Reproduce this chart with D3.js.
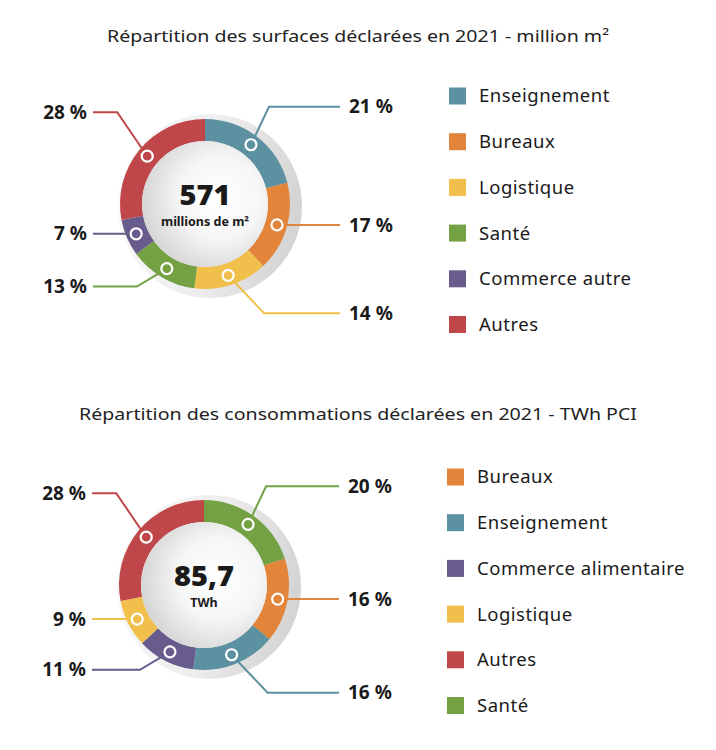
<!DOCTYPE html>
<html>
<head>
<meta charset="utf-8">
<script src="https://cdn.jsdelivr.net/npm/d3@7/dist/d3.min.js"></script>
<style>
  html, body { margin: 0; padding: 0; background: #fff; }
  svg { display: block; }
  text { font-family: "Noto Sans", "Lato", sans-serif; fill: #1a1a1a; }
</style>
</head>
<body>
<svg id="chart" width="716" height="750"></svg>
<script>
// ---------- DATA ----------
const surfTitle = "Répartition des surfaces déclarées en 2021 - million m²";
const surfCategories = ["Enseignement", "Bureaux", "Logistique", "Santé", "Commerce autre", "Autres"];
const surfValues = [21, 17, 14, 13, 7, 28];
const surfLegend = ["Enseignement", "Bureaux", "Logistique", "Santé", "Commerce autre", "Autres"];
const surfTotal = "571";
const surfUnit = "millions de m²";

const consoTitle = "Répartition des consommations déclarées en 2021 - TWh PCI";
const consoCategories = ["Santé", "Bureaux", "Enseignement", "Commerce alimentaire", "Logistique", "Autres"];
const consoValues = [20, 16, 16, 11, 9, 28];
const consoLegend = ["Bureaux", "Enseignement", "Commerce alimentaire", "Logistique", "Autres", "Santé"];
const consoTotal = "85,7";
const consoUnit = "TWh";

const colorDomain = ["Enseignement", "Bureaux", "Logistique", "Santé", "Commerce autre", "Commerce alimentaire", "Autres"];
const colorRange  = ["#5c91a1", "#e2853a", "#f0bf4c", "#75a145", "#675c8c", "#675c8c", "#c04749"];

// ---------- SETUP ----------
const color = d3.scaleOrdinal().domain(colorDomain).range(colorRange);
const svg = d3.select("#chart");
const defs = svg.append("defs");

const shadowGrad = defs.append("linearGradient").attr("id", "shadowGrad")
  .attr("x1", "0%").attr("y1", "30%").attr("x2", "100%").attr("y2", "50%");
shadowGrad.append("stop").attr("offset", "0%").attr("stop-color", "#f9f9f9");
shadowGrad.append("stop").attr("offset", "55%").attr("stop-color", "#ececec");
shadowGrad.append("stop").attr("offset", "100%").attr("stop-color", "#d3d3d3");

const discGrad = defs.append("radialGradient").attr("id", "discGrad")
  .attr("cx", "62%").attr("cy", "45%").attr("r", "65%");
discGrad.append("stop").attr("offset", "0%").attr("stop-color", "#ffffff");
discGrad.append("stop").attr("offset", "50%").attr("stop-color", "#f6f6f6");
discGrad.append("stop").attr("offset", "100%").attr("stop-color", "#d2d2d2");

const pie = d3.pie().sort(null).value(d => d.value);

function drawDonut(cfg) {
  const { title, titleY, titleWidth, cx, cy, categories, values, legend, total, unit, legendX, legendY } = cfg;
  const rOuter = 85, rInner = 63, rDot = 75;
  const data = categories.map((c, i) => ({ cat: c, value: values[i] }));

  svg.append("text").attr("x", 358).attr("y", titleY)
    .attr("text-anchor", "middle").attr("font-size", 17)
    .attr("font-family", "'DejaVu Sans', 'Noto Sans', sans-serif")
    .attr("textLength", titleWidth).attr("lengthAdjust", "spacingAndGlyphs")
    .style("fill", "#222").text(title);

  const g = svg.append("g").attr("transform", `translate(${cx},${cy})`);

  // shadow ring
  g.append("circle").attr("cx", 5).attr("cy", 2).attr("r", 92).attr("fill", "url(#shadowGrad)");

  const arc = d3.arc().innerRadius(rInner).outerRadius(rOuter);
  const arcs = pie(data);
  g.selectAll("path.slice").data(arcs).join("path")
    .attr("class", "slice")
    .attr("d", arc)
    .attr("fill", d => color(d.data.cat));

  // inner disc
  g.append("circle").attr("r", rInner).attr("fill", "url(#discGrad)");

  // center text
  g.append("text").attr("y", 1).attr("text-anchor", "middle")
    .attr("font-family", "Lato, sans-serif").attr("font-weight", 900)
    .attr("font-size", 29).style("fill", "#1a1a1a").text(total);
  g.append("text").attr("y", 22).attr("text-anchor", "middle")
    .attr("font-family", "Lato, sans-serif").attr("font-weight", 700)
    .attr("font-size", 12.5).text(unit);

  // leader lines & labels
  arcs.forEach(d => {
    const a = (d.startAngle + d.endAngle) / 2;
    const sx = Math.sin(a), cy0 = -Math.cos(a);
    const dot = [rDot * sx, rDot * cy0];
    const right = sx >= 0;
    const upper = cy0 < 0;
    const pts = [dot];
    let ly = dot[1];
    if (Math.abs(Math.cos(a)) > 0.5) {
      const dy = right ? 38 : (upper ? 44 : 18);
      const dx = right ? (upper ? 18 : 36) : -30;
      const elbow = [dot[0] + dx, dot[1] + (upper ? -dy : dy)];
      pts.push(elbow);
      ly = elbow[1];
    }
    const endX = right ? 135 : -112;
    pts.push([endX, ly]);
    const col = color(d.data.cat);
    g.append("path").attr("d", d3.line()(pts))
      .attr("fill", "none").attr("stroke", col).attr("stroke-width", 2);
    g.append("circle").attr("cx", dot[0]).attr("cy", dot[1]).attr("r", 5.5)
      .attr("fill", col).attr("stroke", "#fff").attr("stroke-width", 2.2);
    g.append("text")
      .attr("x", right ? endX + 9 : endX - 6)
      .attr("y", ly).attr("dy", "0.35em")
      .attr("text-anchor", right ? "start" : "end")
      .attr("font-family", "Lato, sans-serif").attr("font-weight", 700)
      .attr("font-size", 19).text(`${d.data.value} %`);
  });

  // legend
  const lg = svg.append("g").attr("transform", `translate(${legendX},${legendY})`);
  const rows = lg.selectAll("g").data(legend).join("g")
    .attr("transform", (d, i) => `translate(0,${i * 45.7})`);
  rows.append("rect").attr("x", 0).attr("y", -8.5).attr("width", 17).attr("height", 17)
    .attr("fill", d => color(d));
  rows.append("text").attr("x", 30).attr("y", 0).attr("dy", "0.35em")
    .attr("font-size", 18.5).attr("letter-spacing", 0.5).text(d => d);
}

drawDonut({
  title: surfTitle, titleY: 42, titleWidth: 502, cx: 205, cy: 204,
  categories: surfCategories, values: surfValues, legend: surfLegend,
  total: surfTotal, unit: surfUnit, legendX: 449, legendY: 96
});
drawDonut({
  title: consoTitle, titleY: 420, titleWidth: 558, cx: 204, cy: 585,
  categories: consoCategories, values: consoValues, legend: consoLegend,
  total: consoTotal, unit: consoUnit, legendX: 447, legendY: 477
});
</script>
</body>
</html>
